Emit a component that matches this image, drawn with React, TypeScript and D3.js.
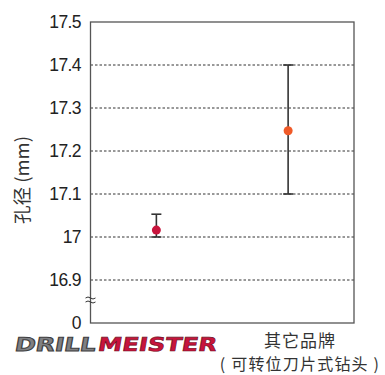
import React from "react";
import * as d3 from "d3";

const categories = ["DRILLMEISTER", "其它品牌"];
const means = [17.016, 17.247];
const lows = [17.0, 17.1];
const highs = [17.053, 17.4];
const tickValues = [16.8, 16.9, 17.0, 17.1, 17.2, 17.3, 17.4, 17.5];
const tickLabels = ["0", "16.9", "17", "17.1", "17.2", "17.3", "17.4", "17.5"];
const gridValues = [16.9, 17.0, 17.1, 17.2, 17.3, 17.4];
const dotColors = ["#c8143c", "#f05a28"];
const yLabel = "孔径 (mm)";
const otherLine2 = "( 可转位刀片式钻头 )";

export default function App() {
  const W = 385, H = 375;
  const left = 90.5, right = 354, top = 22, bottom = 323;
  const y = d3.scaleLinear().domain([16.8, 17.5]).range([bottom, top]);
  const x = d3.scalePoint<string>().domain(categories).range([left, right]).padding(0.5);
  const font = "'Liberation Sans', Arial, sans-serif";
  const cjk = "'Noto Sans CJK SC', sans-serif";
  const logoFont = "'DejaVu Sans', sans-serif";
  const breakY = 300;
  return (
    <svg width={W} height={H} style={{ position: "absolute", left: 0, top: 0 }}>
      <rect width={W} height={H} fill="#fff" />
      {gridValues.map((v) => (
        <line key={v} x1={left} x2={right} y1={y(v)} y2={y(v)} stroke="#333" strokeWidth={1} strokeDasharray="2.5,2" />
      ))}
      <rect x={left} y={top} width={right - left} height={bottom - top} fill="none" stroke="#555" strokeWidth={1.3} />
      {tickValues.map((v, i) => (
        <text key={v} x={81} y={y(v)} dy="0.36em" textAnchor="end" fontFamily={font} fontSize={17.5} letterSpacing={-0.6} fill="#222">
          {tickLabels[i]}
        </text>
      ))}
      <g stroke="#333" strokeWidth={1} fill="none">
        <path d={`M${left - 5},${breakY - 2} q2.5,-2 5,0 t5,0`} />
        <path d={`M${left - 5},${breakY + 2} q2.5,-2 5,0 t5,0`} />
      </g>
      <text transform={`translate(29,180) rotate(-90)`} textAnchor="middle" fontFamily={cjk} fontSize={18.5} fill="#333">
        {yLabel}
      </text>
      {categories.map((c, i) => {
        const cx = x(c)!;
        return (
          <g key={c}>
            <line x1={cx} x2={cx} y1={y(lows[i])} y2={y(highs[i])} stroke="#333" strokeWidth={1.6} />
            <line x1={cx - 5} x2={cx + 5} y1={y(lows[i])} y2={y(lows[i])} stroke="#333" strokeWidth={1.6} />
            <line x1={cx - 5} x2={cx + 5} y1={y(highs[i])} y2={y(highs[i])} stroke="#333" strokeWidth={1.6} />
            <circle cx={cx} cy={y(means[i])} r={4.5} fill={dotColors[i]} />
          </g>
        );
      })}
      <g transform="translate(14,351) skewX(-10)">
        <text x={0} y={0} textLength={81} lengthAdjust="spacingAndGlyphs" fontFamily={logoFont} fontWeight={700} fontSize={19} fill="#7f8083" stroke="#3f3f41" strokeWidth={1}>
          DRILL
        </text>
        <text x={83} y={0} textLength={119} lengthAdjust="spacingAndGlyphs" fontFamily={logoFont} fontWeight={700} fontSize={19} fill="#c8143c" stroke="#6e0e1e" strokeWidth={0.6}>
          MEISTER
        </text>
      </g>
      <text x={300} y={346.5} textAnchor="middle" fontFamily={cjk} fontSize={17} letterSpacing={1} fill="#333">
        {categories[1]}
      </text>
      <text x={300} y={370} textAnchor="middle" fontFamily={cjk} fontSize={16} letterSpacing={1.2} fill="#333">
        {otherLine2}
      </text>
    </svg>
  );
}
